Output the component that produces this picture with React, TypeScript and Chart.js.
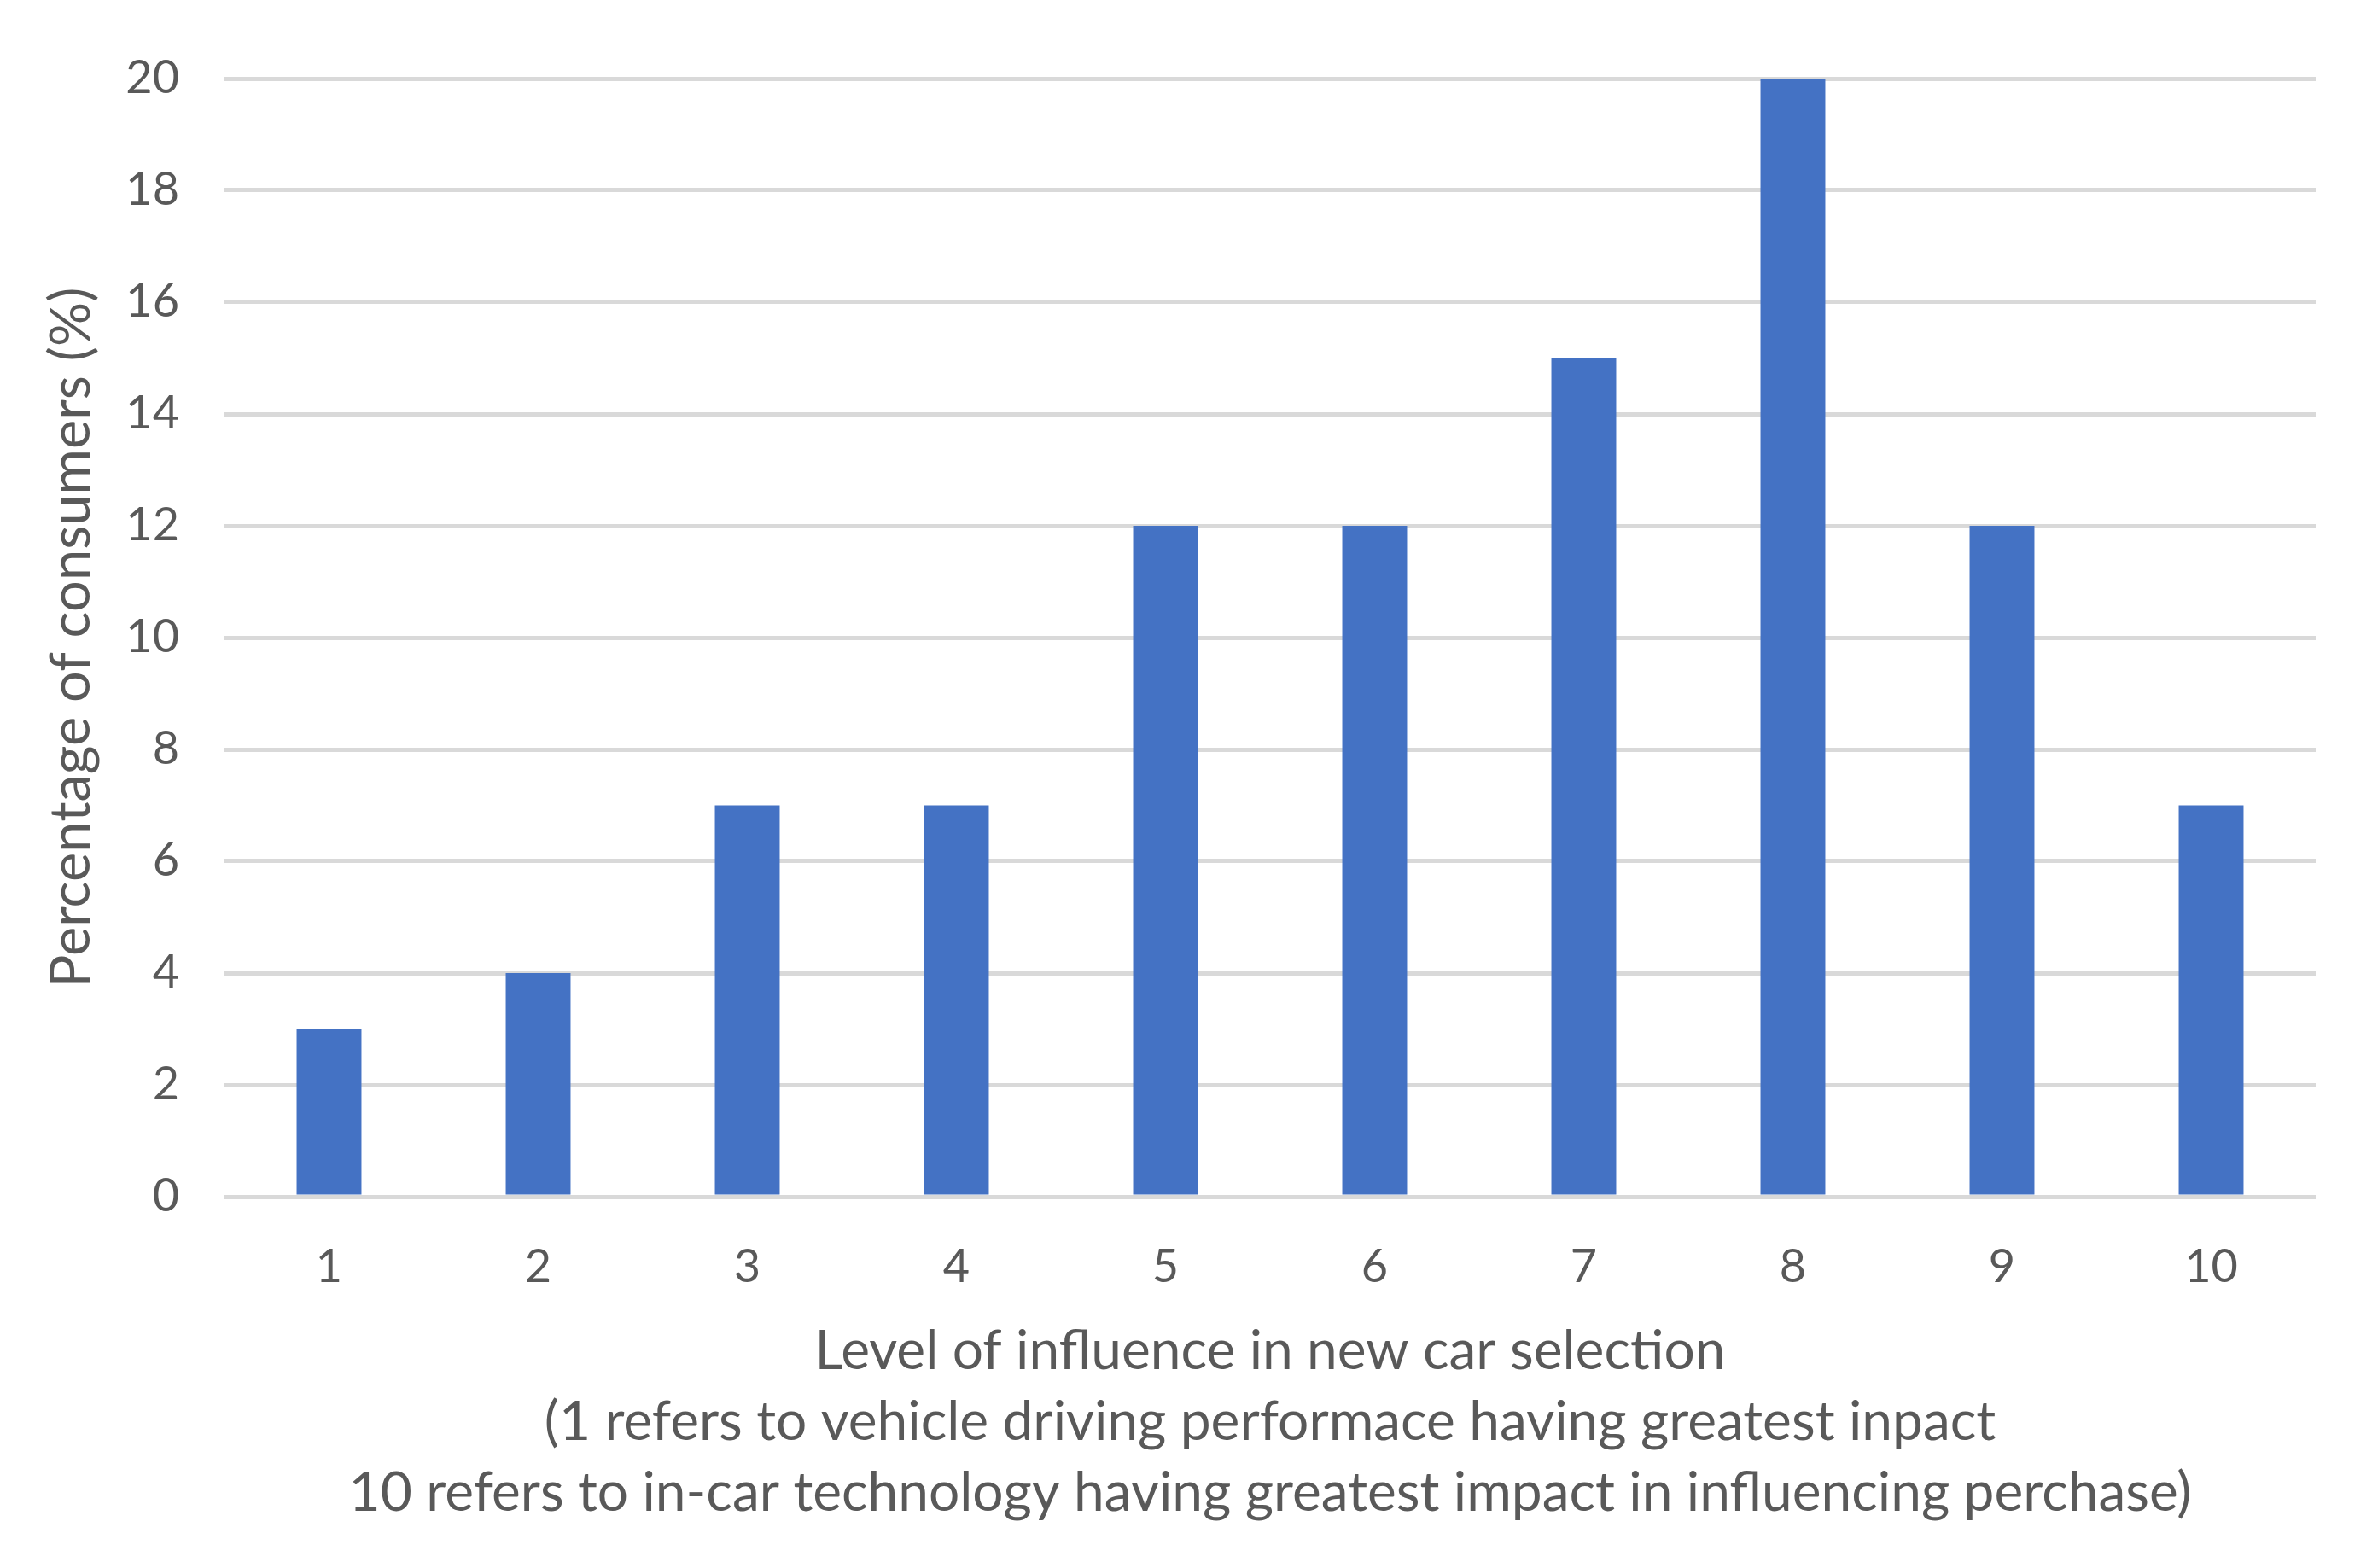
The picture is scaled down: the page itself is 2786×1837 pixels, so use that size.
import React, { useEffect, useRef } from "react";
import { Chart, registerables } from "chart.js";

Chart.register(...registerables);

const categories = ["1", "2", "3", "4", "5", "6", "7", "8", "9", "10"];
const percentages = [3, 4, 7, 7, 12, 12, 15, 20, 12, 7];
const yTitle = "Percentage of consumers (%)";
const xTitle = [
  "Level of influence in new car selection",
  "(1 refers to vehicle driving performace having greatest inpact",
  "10 refers to in-car technology having greatest impact in influencing perchase)",
];

const FONT = "Lato, 'Open Sans', sans-serif";
const TEXT = "#595959";

export default function App() {
  const ref = useRef<HTMLCanvasElement | null>(null);

  useEffect(() => {
    document.body.style.margin = "0";
    const ctx = ref.current!;
    const chart = new Chart(ctx, {
      type: "bar",
      data: {
        labels: categories,
        datasets: [
          {
            data: percentages,
            backgroundColor: "#4472C4",
            borderWidth: 0,
            categoryPercentage: 1,
            barPercentage: 0.31,
          },
        ],
      },
      options: {
        animation: false,
        responsive: false,
        devicePixelRatio: 1,
        layout: { padding: { top: 92, right: 73, left: 0, bottom: 0 } },
        plugins: { legend: { display: false }, tooltip: { enabled: false } },
        scales: {
          x: {
            grid: { display: false },
            border: { display: false },
            ticks: {
              color: TEXT,
              font: { family: FONT, size: 54 },
              padding: 42,
              maxRotation: 0,
            },
            title: {
              display: true,
              text: xTitle,
              color: TEXT,
              font: { family: FONT, size: 64, lineHeight: 1.297 },
              padding: { top: 0, bottom: 46 },
            },
            afterFit: (s: any) => {
              s.height = 1837 - 1402;
            },
          },
          y: {
            min: 0,
            max: 20,
            ticks: {
              stepSize: 2,
              color: TEXT,
              font: { family: FONT, size: 54 },
              padding: 53,
            },
            grid: { color: "#d9d9d9", lineWidth: 5, drawTicks: false },
            border: { display: false },
            title: {
              display: true,
              text: yTitle,
              color: TEXT,
              font: { family: FONT, size: 65, lineHeight: 1.2 },
              padding: { top: 45, bottom: 0 },
            },
            afterFit: (s: any) => {
              s.width = 263;
            },
          },
        },
      },
    });
    return () => chart.destroy();
  }, []);

  return (
    <div style={{ position: "fixed", left: 0, top: 0, width: 2786, height: 1837, background: "#fff" }}>
      <canvas ref={ref} width={2786} height={1837} style={{ width: 2786, height: 1837 }} />
    </div>
  );
}
